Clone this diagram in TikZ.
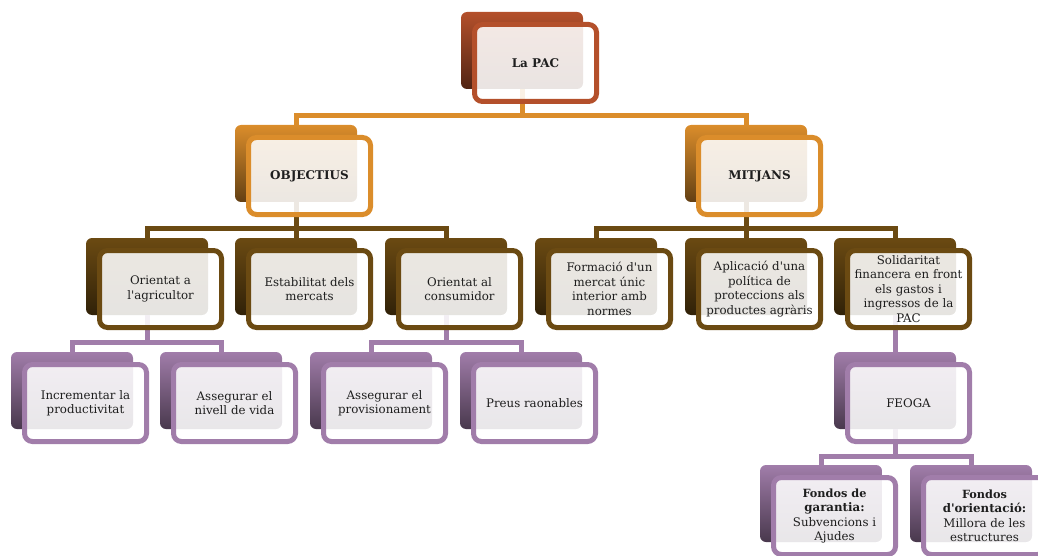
\documentclass[tikz,border=0pt]{standalone}
\usepackage{fontspec}
\setmainfont{DejaVu Serif}
\usetikzlibrary{calc}
\definecolor{rust}{HTML}{B4502B}
\definecolor{orng}{HTML}{DB8D2B}
\definecolor{brwn}{HTML}{6B4A12}
\definecolor{purp}{HTML}{A17DAA}
\definecolor{txt}{HTML}{1E1E1E}
\newcommand\ap{\textquotesingle}
\tikzset{
  backbox/.style={rounded corners=6pt, minimum width=122pt, minimum height=77pt, inner sep=0pt,
    top color=#1, bottom color=#1!45!black},
  frontbox/.style={draw=#1, line width=5pt, rounded corners=8pt, fill=white, fill opacity=0.88,
    text opacity=1, minimum width=122pt, minimum height=77pt, inner sep=1pt, align=center,
    font=\fontsize{11.8}{14.5}\selectfont, text=txt},
  conn/.style={draw=#1, line width=5pt},
}
\newcommand\backat[4]{\node[backbox=#4] (#1b) at (#2+61,#3+38.5) {};}
\newcommand\frontat[5]{\node[frontbox=#4] (#1) at (#2+74.5,#3+51) {#5};}
\begin{document}
\begin{tikzpicture}[x=1pt,y=-1pt]
\useasboundingbox (0,0) rectangle (1038,556);
\clip (0,0) rectangle (1038,556);
% back boxes
\backat{pac}{461}{12}{rust}
\backat{obj}{235}{125}{orng}
\backat{mit}{685}{125}{orng}
\backat{agr}{86}{238}{brwn}
\backat{est}{235}{238}{brwn}
\backat{con}{385}{238}{brwn}
\backat{for}{535}{238}{brwn}
\backat{apl}{685}{238}{brwn}
\backat{sol}{834}{238}{brwn}
\backat{inc}{11}{352}{purp}
\backat{niv}{160}{352}{purp}
\backat{pro}{310}{352}{purp}
\backat{pre}{460}{352}{purp}
\backat{feo}{834}{352}{purp}
\backat{gar}{760}{465}{purp}
\backat{ori}{910}{465}{purp}
% connectors
\draw[conn=orng] (pacb.south) -- ++(0,26) -| (objb.north);
\draw[conn=orng] (pacb.south) -- ++(0,26) -| (mitb.north);
\draw[conn=brwn] (objb.south) -- ++(0,26) -| (agrb.north);
\draw[conn=brwn] (objb.south) -- ++(0,26) -| (estb.north);
\draw[conn=brwn] (objb.south) -- ++(0,26) -| (conb.north);
\draw[conn=brwn] (mitb.south) -- ++(0,26) -| (forb.north);
\draw[conn=brwn] (mitb.south) -- ++(0,26) -| (aplb.north);
\draw[conn=brwn] (mitb.south) -- ++(0,26) -| (solb.north);
\draw[conn=purp] (agrb.south) -- ++(0,27) -| (incb.north);
\draw[conn=purp] (agrb.south) -- ++(0,27) -| (nivb.north);
\draw[conn=purp] (conb.south) -- ++(0,27) -| (prob.north);
\draw[conn=purp] (conb.south) -- ++(0,27) -| (preb.north);
\draw[conn=purp] (solb.south) -- (feob.north);
\draw[conn=purp] (feob.south) -- ++(0,27) -| (garb.north);
\draw[conn=purp] (feob.south) -- ++(0,27) -| (orib.north);
% front boxes
\frontat{pac}{461}{12}{rust}{\fontsize{12}{14}\selectfont\textbf{La PAC}}
\frontat{obj}{235}{125}{orng}{\fontsize{12}{14}\selectfont\textbf{OBJECTIUS}}
\frontat{mit}{685}{125}{orng}{\fontsize{12}{14}\selectfont\textbf{MITJANS}}
\frontat{agr}{86}{238}{brwn}{Orientat a\\l\ap agricultor}
\frontat{est}{235}{238}{brwn}{Estabilitat dels\\mercats}
\frontat{con}{385}{238}{brwn}{Orientat al\\consumidor}
\frontat{for}{535}{238}{brwn}{\fontsize{11.8}{13.6}\selectfont Formació d\ap un\\mercat únic\\interior amb\\normes}
\frontat{apl}{685}{238}{brwn}{\fontsize{11.8}{13.6}\selectfont Aplicació d\ap una\\política de\\proteccions als\\productes agràris}
\frontat{sol}{834}{238}{brwn}{\fontsize{11.8}{12.2}\selectfont Solidaritat\\financera en front\\els gastos i\\ingressos de la\\PAC}
\frontat{inc}{11}{352}{purp}{Incrementar la\\productivitat}
\frontat{niv}{160}{352}{purp}{Assegurar el\\nivell de vida}
\frontat{pro}{310}{352}{purp}{Assegurar el\\provisionament}
\frontat{pre}{460}{352}{purp}{Preus raonables}
\frontat{feo}{834}{352}{purp}{FEOGA}
\frontat{gar}{760}{465}{purp}{\fontsize{11.3}{13.2}\selectfont\textbf{Fondos de}\\\textbf{garantia:}\\Subvencions i\\Ajudes}
\frontat{ori}{910}{465}{purp}{\fontsize{11.3}{13.2}\selectfont\textbf{Fondos}\\\textbf{d\ap orientació:}\\Millora de les\\estructures}
\end{tikzpicture}
\end{document}
